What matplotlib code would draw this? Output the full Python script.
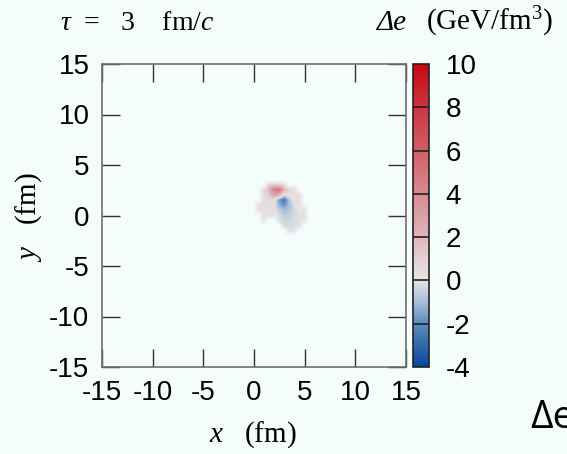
import numpy as np
import matplotlib
matplotlib.use("Agg")
import matplotlib.pyplot as plt
from matplotlib.colors import LinearSegmentedColormap, Normalize

plt.rcParams['axes.unicode_minus'] = False
plt.rcParams['mathtext.fontset'] = 'custom'
plt.rcParams['mathtext.rm'] = 'Liberation Serif'
plt.rcParams['mathtext.it'] = 'Liberation Serif:italic'

BG = '#f4fcfc'

# grid of cell centres (fm)
x_centres = [0.5, 1.0, 1.5, 2.0, 2.5, 3.0, 3.5, 4.0, 4.5, 5.0]
y_centres = [3.0, 2.5, 2.0, 1.5, 1.0, 0.5, 0.0, -0.5, -1.0, -1.5]
nan = np.nan
# Delta e (GeV/fm^3), rows top (y=3.0) to bottom (y=-1.5); nan = empty
delta_e = [
    [nan, nan, 0.8, 1.0, 1.0, 0.6, nan, nan, nan, nan],
    [nan, 0.5, 2.0, 4.5, 5.0, 2.0, 0.8, 0.3, nan, nan],
    [nan, 0.4, 1.0, 3.0, 2.5, 0.0, 0.3, 0.4, 0.2, nan],
    [nan, 0.3, 0.5, 0.5, -1.5, -2.5, -0.8, 0.2, 0.3, nan],
    [0.2, 0.2, 0.3, 0.2, -1.2, -1.8, -1.0, -0.2, 0.2, nan],
    [0.1, 0.3, 0.2, 0.2, -0.5, -1.0, -0.8, -0.3, 0.0, 0.1],
    [nan, 0.2, 0.3, 0.2, -0.2, -0.6, -0.6, -0.3, -0.1, 0.1],
    [nan, 0.2, nan, nan, -0.1, -0.4, -0.4, -0.2, -0.1, 0.1],
    [nan, nan, nan, nan, nan, -0.3, -0.3, -0.2, -0.1, nan],
    [nan, nan, nan, nan, nan, nan, -0.1, -0.1, nan, nan],
]

ticks = [-15, -10, -5, 0, 5, 10, 15]
cbar_ticks = [-4, -2, 0, 2, 4, 6, 8, 10]

# colour scale anchors (value, colour)
cmap_vals = [-4, -3, -2, -1, 0, 1, 2, 4, 6, 8, 10]
cmap_cols = ['#08479b', '#2f6aaa', '#5d8cc0', '#a8bfd9', '#e6e4e4', '#e4d0d3',
             '#e0b6bb', '#d98a91', '#d25e67', '#cd3540', '#c80612']
vmin, vmax = -4, 10
cmap = LinearSegmentedColormap.from_list(
    'de', [((v - vmin) / (vmax - vmin), c) for v, c in zip(cmap_vals, cmap_cols)])
norm = Normalize(vmin, vmax)

fig = plt.figure(figsize=(5.67, 4.54), dpi=100, facecolor=BG)
W, H = 567, 454
ax = fig.add_axes([102 / W, 1 - 367 / H, 304 / W, 303 / H], facecolor=BG)

arr = np.array(delta_e)
alpha = np.where(np.isnan(arr), 0.0, 1.0)
# pad with empty cells so edges fade out
arr = np.pad(np.nan_to_num(arr, nan=0.0), 1)
alpha = np.pad(alpha, 1)
dx = x_centres[1] - x_centres[0]
dy = y_centres[0] - y_centres[1]
im = ax.imshow(arr, cmap=cmap, norm=norm, interpolation='bilinear', alpha=alpha,
               extent=[x_centres[0] - 1.5 * dx, x_centres[-1] + 1.5 * dx,
                       y_centres[-1] - 1.5 * dy, y_centres[0] + 1.5 * dy],
               origin='upper', aspect='auto')

ax.set_xlim(-15, 15)
ax.set_ylim(-15, 15)
ax.set_xticks(ticks)
ax.set_yticks(ticks)
ax.tick_params(direction='in', length=13, width=1.0, color='#333333',
               top=True, right=True, labelsize=20, pad=9)
for lab in ax.get_xticklabels() + ax.get_yticklabels():
    lab.set_family('Liberation Sans')
for s in ax.spines.values():
    s.set_color('#707070')
    s.set_linewidth(1.2)

cax = fig.add_axes([413 / W, 1 - 367 / H, 16 / W, 303 / H])
cb = fig.colorbar(im, cax=cax, ticks=cbar_ticks)
cb.solids.set_alpha(1)
cb.outline.set_edgecolor('#222222')
cb.outline.set_linewidth(1.2)
cax.tick_params(length=0, labelsize=20, pad=12)
for lab in cax.get_yticklabels():
    lab.set_family('Liberation Sans')
for v in cbar_ticks[1:-1]:
    cax.axhline(v, color='#222222', lw=1.2)

fig.text(60 / W, 1 - 30 / H, r'$\tau$  =   3    fm/$c$',
         fontsize=20, va='baseline', ha='left', family='Liberation Serif')
fig.text(377 / W, 1 - 30 / H, 'Δe', fontsize=21, va='baseline', ha='left',
         family='Liberation Serif', style='italic')
fig.text(426 / W, 1 - 30 / H, '(GeV/fm$^3$)', fontsize=21, va='baseline',
         ha='left', family='Liberation Serif')
fig.text(253 / W, 1 - 442 / H, '$x$   (fm)', fontsize=21, va='baseline',
         ha='center', family='Liberation Serif')
fig.text(29 / W, 1 - 217 / H, '$y$   (fm)', fontsize=21, va='center',
         ha='center', rotation=90, family='Liberation Serif')
fig.text(530 / W, 1 - 428 / H, 'Δe', fontsize=28, va='baseline', ha='left',
         family='Open Sans')

fig.savefig('out.png', dpi=100, facecolor=BG)
